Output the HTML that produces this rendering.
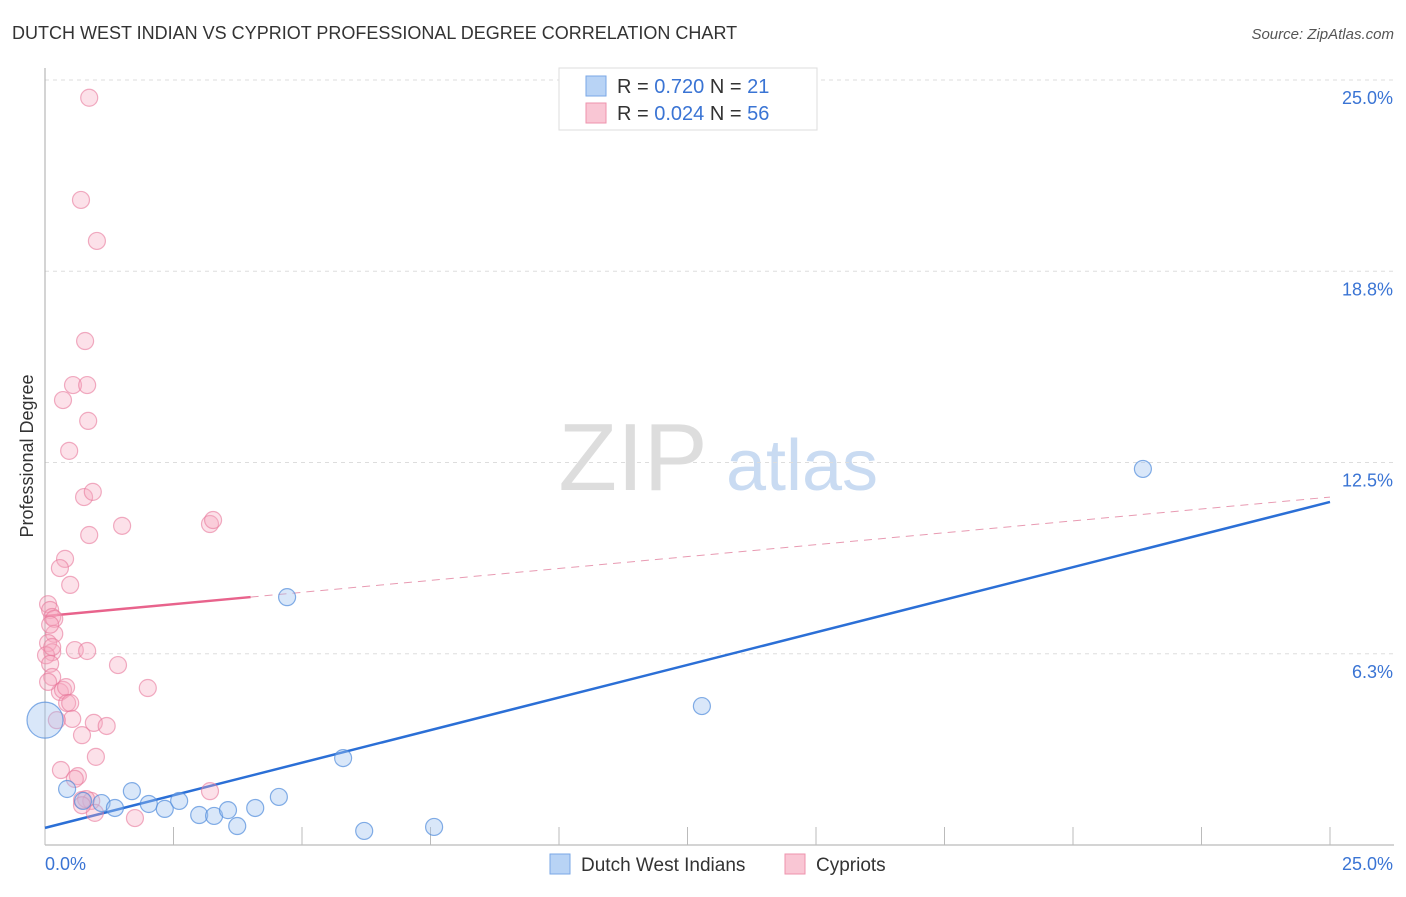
<!DOCTYPE html>
<html><head><meta charset="utf-8"><style>
body{margin:0;background:#fff;font-family:"Liberation Sans",sans-serif;}
svg text{font-family:"Liberation Sans",sans-serif;}
</style></head><body>
<svg id="chart" width="1406" height="892" viewBox="0 0 1406 892" xmlns="http://www.w3.org/2000/svg">
<text x="12" y="39" font-size="18" fill="#333">DUTCH WEST INDIAN VS CYPRIOT PROFESSIONAL DEGREE CORRELATION CHART</text>
<text x="1394" y="39" font-size="15" fill="#555" font-style="italic" text-anchor="end">Source: ZipAtlas.com</text>
<text transform="translate(33,456) rotate(-90)" font-size="18" fill="#333" text-anchor="middle">Professional Degree</text>
<g>
<text x="633" y="490" font-size="96" fill="#ddd" font-family="Liberation Serif,serif" text-anchor="middle">ZIP</text>
<text x="802" y="490" font-size="72" fill="#c9dbf2" text-anchor="middle">atlas</text>
</g>
<g id="grid"></g><g id="axes"></g><g id="lines"></g><g id="points"></g>
<g>
<rect x="559" y="68" width="258" height="62" fill="#fff" stroke="#ddd"/>
<rect x="586" y="76" width="20" height="20" fill="#b8d3f5" stroke="#7aa7e6"/>
<text x="617" y="93" font-size="20" fill="#333">R = <tspan fill="#3a74d4">0.720</tspan>   N =  <tspan fill="#3a74d4">21</tspan></text>
<rect x="586" y="103" width="20" height="20" fill="#f9c6d4" stroke="#ee93ad"/>
<text x="617" y="120" font-size="20" fill="#333">R = <tspan fill="#3a74d4">0.024</tspan>   N = <tspan fill="#3a74d4">56</tspan></text>
</g>
<g>
<rect x="550" y="854" width="20" height="20" fill="#b8d3f5" stroke="#7aa7e6"/>
<text x="581" y="871" font-size="19" fill="#333">Dutch West Indians</text>
<rect x="785" y="854" width="20" height="20" fill="#f9c6d4" stroke="#ee93ad"/>
<text x="816" y="871" font-size="19" fill="#333">Cypriots</text>
</g>
</svg>
<script>
const yTicks=[6.25,12.5,18.75,25];
const yTickLabels=["6.3%","12.5%","18.8%","25.0%"];
const xTickVals=[0,2.5,5,7.5,10,12.5,15,17.5,20,22.5,25];
const blueX=[0,0.43,1.1,0.74,1.36,1.69,2.02,2.33,2.61,3.0,3.29,3.56,3.74,4.09,4.55,4.71,5.8,6.21,7.57,12.78,21.36];
const blueY=[4.08,1.83,1.37,1.44,1.21,1.76,1.34,1.18,1.44,0.98,0.95,1.14,0.62,1.21,1.57,8.1,2.84,0.46,0.59,4.54,12.29];
const pinkX=[0.86,0.7,1.01,0.78,0.545,0.82,0.35,0.84,0.47,0.76,0.93,1.5,0.86,3.21,3.27,0.39,0.29,0.06,0.1,0.14,0.18,0.18,0.06,0.14,0.02,0.58,0.82,0.1,1.42,0.14,0.29,0.35,0.41,2.0,0.43,0.49,0.53,0.95,1.2,0.23,0.72,0.99,0.31,0.64,0.58,0.72,0.9,0.97,1.75,3.21,0.06,0.14,0.49,0.8,0.72,0.1];
const pinkY=[24.42,21.08,19.74,16.47,15.03,15.03,14.54,13.86,12.88,11.37,11.54,10.43,10.13,10.49,10.62,9.35,9.05,7.87,7.68,7.45,7.39,6.9,6.6,6.3,6.2,6.37,6.34,5.92,5.88,5.49,5.0,5.07,5.16,5.13,4.64,4.64,4.12,3.99,3.89,4.08,3.59,2.88,2.45,2.25,2.16,1.47,1.44,1.05,0.88,1.76,5.33,6.47,8.5,1.5,1.3,7.2];
const blueLine=[0.56,11.21];
const pinkLine=[7.48,11.37];
const pinkSolidEnd=4.0;
const L=45,R=1330,T=80,B=845;
const sx=v=>L+v/25*(R-L), sy=v=>B-v/25*(B-T);
const NS="http://www.w3.org/2000/svg";
function mk(tag,attrs,parent){const e=document.createElementNS(NS,tag);for(const k in attrs)e.setAttribute(k,attrs[k]);document.getElementById(parent).appendChild(e);return e;}
yTicks.forEach((v,i)=>{
 const g=mk('line',{x1:L,x2:1394,y1:sy(v),y2:sy(v),stroke:'#ddd','stroke-dasharray':'4,4'},'grid');
 
 
 const t=mk('text',{x:1393,y:sy(v)+24,'font-size':18,fill:'#3a74d4','text-anchor':'end'},'grid');
 t.textContent=yTickLabels[i];
 
 
});
const ax=mk('line',{x1:L,x2:L,y1:68,y2:B,stroke:'#aaa'},'axes');


const bx=mk('line',{x1:L,x2:1394,y1:B,y2:B,stroke:'#aaa'},'axes');


xTickVals.forEach(v=>{const t=mk('line',{x1:sx(v),x2:sx(v),y1:B-18,y2:B,stroke:'#bbb'},'axes');
 
 });
const x0=mk('text',{x:45,y:870,'font-size':18,fill:'#3a74d4'},'axes');x0.textContent='0.0%';


const x1=mk('text',{x:1393,y:870,'font-size':18,fill:'#3a74d4','text-anchor':'end'},'axes');x1.textContent='25.0%';


pinkX.forEach((x,i)=>{const c=mk('circle',{cx:sx(x),cy:sy(pinkY[i]),r:8.5,fill:'rgba(246,170,192,0.35)',stroke:'rgba(232,120,155,0.6)','stroke-width':1.2},'points');
 
 });
blueX.forEach((x,i)=>{const c=mk('circle',{cx:sx(x),cy:sy(blueY[i]),r:i===0?18:8.5,fill:'rgba(160,196,240,0.4)',stroke:'rgba(80,140,220,0.7)','stroke-width':1.2},'points');
 
 });
const pv=x=>pinkLine[0]+(pinkLine[1]-pinkLine[0])*x/25;
const pd=mk('line',{x1:sx(pinkSolidEnd),y1:sy(pv(pinkSolidEnd)),x2:sx(25),y2:sy(pinkLine[1]),stroke:'#e89ab2','stroke-dasharray':'8,6','stroke-width':1},'lines');


const ps=mk('line',{x1:sx(0),y1:sy(pinkLine[0]),x2:sx(pinkSolidEnd),y2:sy(pv(pinkSolidEnd)),stroke:'#e8638c','stroke-width':2.5},'lines');


const bl=mk('line',{x1:sx(0),y1:sy(blueLine[0]),x2:sx(25),y2:sy(blueLine[1]),stroke:'#2b6fd6','stroke-width':2.5},'lines');


</script>
</body></html>
